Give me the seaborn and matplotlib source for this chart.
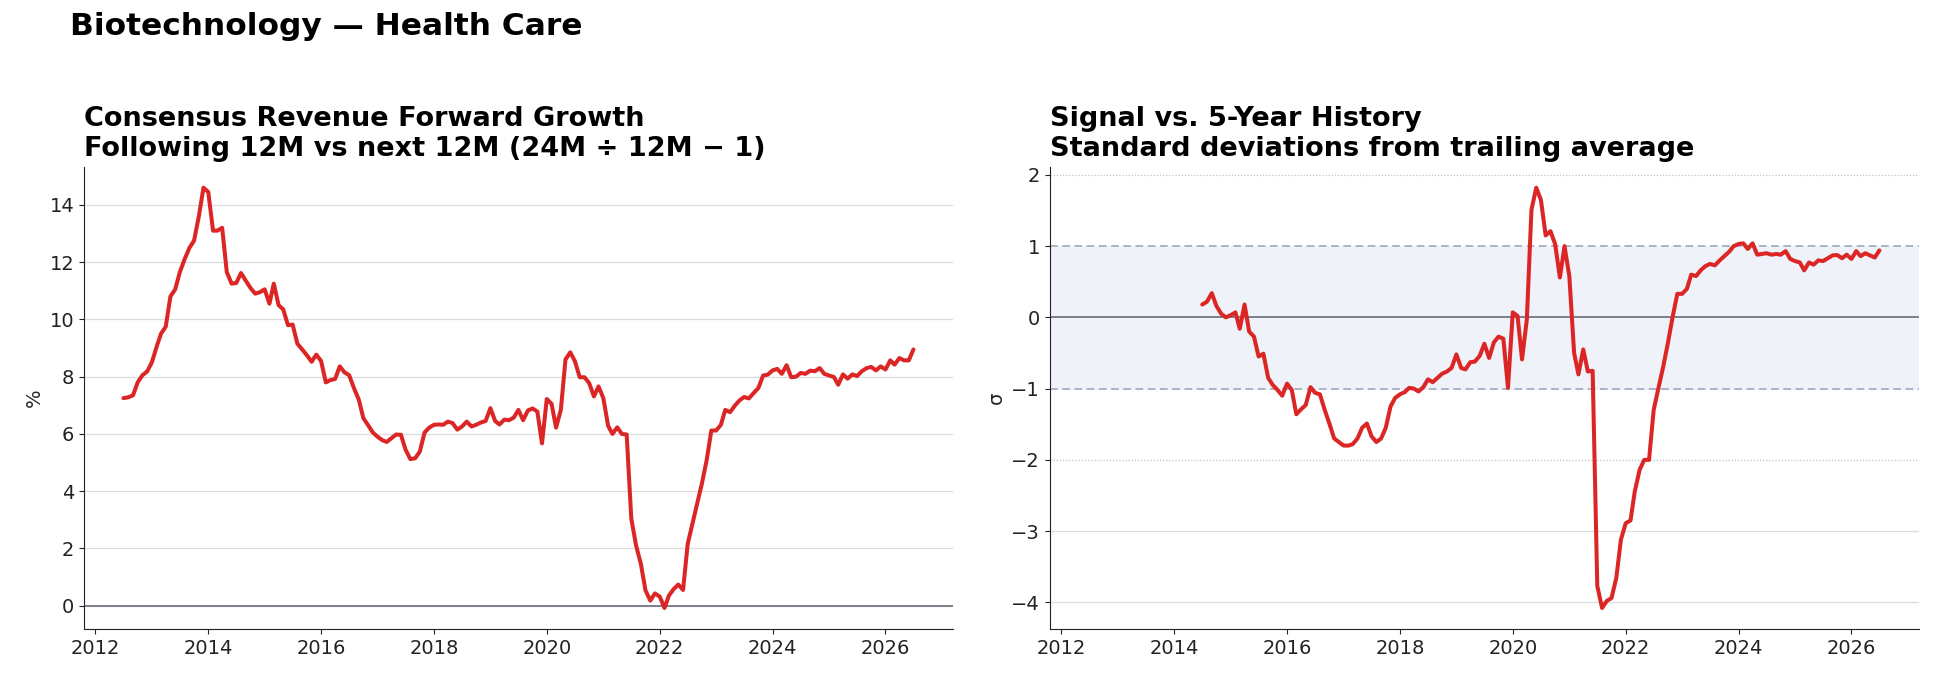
import pandas as pd
import seaborn as sns
import matplotlib.pyplot as plt

# monthly consensus forward revenue growth (%), Jul 2012 onwards
growth_start = "2012-07-01"
growth = [
    7.25, 7.28, 7.35, 7.8, 8.05, 8.18, 8.5, 9.05, 9.5, 9.75, 10.8, 11.05,
    11.65, 12.1, 12.5, 12.75, 13.6, 14.6, 14.45, 13.1, 13.1, 13.2, 11.65, 11.25,
    11.27, 11.62, 11.35, 11.1, 10.9, 10.95, 11.05, 10.55, 11.25, 10.5, 10.35, 9.8,
    9.82, 9.15, 8.95, 8.75, 8.52, 8.77, 8.55, 7.8, 7.88, 7.92, 8.36, 8.15,
    8.05, 7.6, 7.2, 6.55, 6.3, 6.05, 5.9, 5.78, 5.72, 5.85, 5.98, 5.97,
    5.45, 5.12, 5.15, 5.38, 6.05, 6.22, 6.32, 6.33, 6.32, 6.43, 6.38, 6.15,
    6.26, 6.43, 6.26, 6.32, 6.40, 6.45, 6.9, 6.45, 6.33, 6.5, 6.48, 6.57,
    6.84, 6.48, 6.82, 6.89, 6.78, 5.67, 7.22, 7.05, 6.22, 6.84, 8.6, 8.85,
    8.54, 7.98, 7.98, 7.78, 7.31, 7.66, 7.25, 6.28, 6.0, 6.23, 6.0, 5.98,
    3.04, 2.1, 1.46, 0.53, 0.18, 0.43, 0.32, -0.08, 0.35, 0.58, 0.74, 0.55,
    2.16, 2.87, 3.57, 4.27, 5.09, 6.12, 6.12, 6.32, 6.84, 6.76, 6.98, 7.17,
    7.29, 7.24, 7.43, 7.6, 8.04, 8.07, 8.22, 8.27, 8.1, 8.4, 7.98, 8.0,
    8.13, 8.1, 8.21, 8.19, 8.30, 8.1, 8.04, 7.99, 7.72, 8.08, 7.93, 8.08,
    8.02, 8.19, 8.30, 8.34, 8.22, 8.36, 8.25, 8.57, 8.42, 8.65, 8.57, 8.57,
    8.95,
]

# z-score of the signal vs trailing 5-year history, Jul 2014 onwards
z_start = "2014-07-01"
zscore = [
    0.18, 0.22, 0.34, 0.16, 0.05, 0.0, 0.03, 0.07, -0.16, 0.18, -0.2, -0.27,
    -0.55, -0.51, -0.85, -0.95, -1.02, -1.10, -0.93, -1.02, -1.36, -1.29, -1.23, -0.98,
    -1.06, -1.08, -1.30, -1.49, -1.70, -1.75, -1.80, -1.80, -1.78, -1.70, -1.55, -1.49,
    -1.67, -1.75, -1.70, -1.55, -1.25, -1.13, -1.08, -1.05, -0.99, -1.0, -1.04, -0.98,
    -0.87, -0.91, -0.85, -0.79, -0.76, -0.71, -0.52, -0.71, -0.73, -0.63, -0.62, -0.54,
    -0.37, -0.57, -0.35, -0.27, -0.30, -0.99, 0.07, 0.02, -0.59, -0.03, 1.51, 1.82,
    1.65, 1.15, 1.21, 1.03, 0.56, 1.0, 0.58, -0.50, -0.80, -0.45, -0.76, -0.75,
    -3.77, -4.08, -3.98, -3.94, -3.66, -3.12, -2.89, -2.85, -2.44, -2.14, -2.0, -2.0,
    -1.30, -0.99, -0.69, -0.36, 0.01, 0.33, 0.33, 0.40, 0.60, 0.58, 0.66, 0.72,
    0.75, 0.73, 0.80, 0.86, 0.92, 1.0, 1.03, 1.04, 0.96, 1.04, 0.88, 0.89,
    0.90, 0.88, 0.89, 0.88, 0.93, 0.82, 0.79, 0.77, 0.66, 0.77, 0.74, 0.80,
    0.79, 0.83, 0.87, 0.875, 0.83, 0.88, 0.82, 0.93, 0.86, 0.90, 0.87, 0.84,
    0.94,
]

growth_dates = pd.date_range(growth_start, periods=len(growth), freq="MS")
z_dates = pd.date_range(z_start, periods=len(zscore), freq="MS")

sns.set_style("ticks")
plt.rcParams.update({
    "xtick.labelsize": 14,
    "ytick.labelsize": 14,
    "axes.labelsize": 14,
    "axes.edgecolor": "#222222",
    "xtick.color": "#222222",
    "ytick.color": "#222222",
    "text.color": "black",
})

red = "#dc2626"
grid_col = "#dcdde2"

fig, (ax1, ax2) = plt.subplots(1, 2, figsize=(19.34, 6.79), dpi=100, sharex=True)
fig.subplots_adjust(left=0.0434, right=0.9922, bottom=0.0736, top=0.7545, wspace=0.1116)

# left: forward growth
ax1.yaxis.grid(True, color=grid_col, lw=0.9)
ax1.axhline(0, color="#7b7f8a", lw=1.4, zorder=1)
sns.lineplot(x=growth_dates, y=growth, ax=ax1, color=red, lw=2.9)
ax1.set_ylabel("%")
ax1.set_xlabel("")
ax1.set_title("Consensus Revenue Forward Growth\nFollowing 12M vs next 12M (24M \u00f7 12M \u2212 1)",
              loc="left", fontsize=19.5, fontweight="bold", pad=8)

# right: standard deviations vs history
sns.lineplot(x=z_dates, y=zscore, ax=ax2, color=red, lw=2.9, zorder=3)
ax2.axhspan(-1, 1, color="#eff2f8", zorder=0)
# plain gridlines outside the +/-2 sigma markers
for t in ax2.get_yticks():
    if abs(t) > 2 and ax2.get_ylim()[0] <= t <= ax2.get_ylim()[1]:
        ax2.axhline(t, color=grid_col, lw=0.9, zorder=0.5)
for lvl in (-1, 1):
    ax2.axhline(lvl, color="#98a2b6", lw=1.1, ls=(0, (5, 3)), zorder=1)
for lvl in (-2, 2):
    ax2.axhline(lvl, color="#b9c3d6", lw=0.9, ls=(0, (1, 1.5)), zorder=1)
ax2.axhline(0, color="#7b7f8a", lw=1.4, zorder=1)
ax2.set_ylabel("\u03c3")
ax2.set_xlabel("")
ax2.set_title("Signal vs. 5-Year History\nStandard deviations from trailing average",
              loc="left", fontsize=19.5, fontweight="bold", pad=8)

sns.despine(fig=fig)

fig.suptitle("Biotechnology \u2014 Health Care", x=0.036, y=0.982, ha="left", va="top",
             fontsize=22.5, fontweight="bold")

fig.savefig("out.png", dpi=100)
